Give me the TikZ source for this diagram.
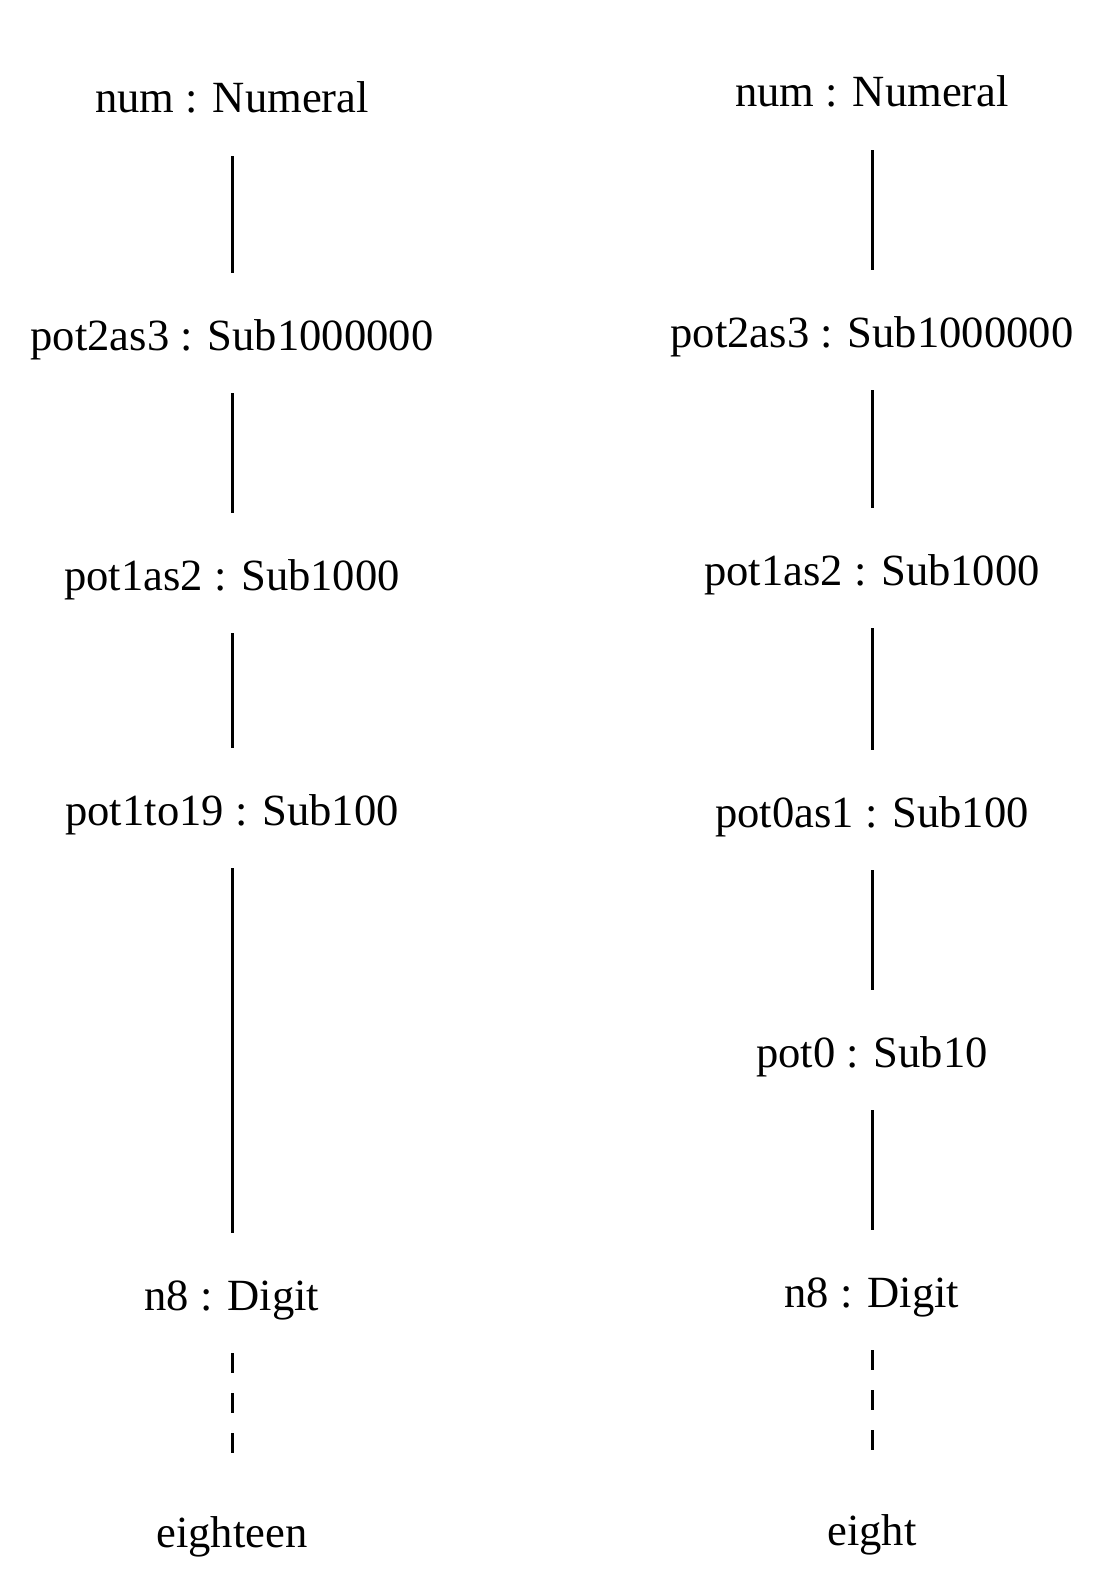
\documentclass[tikz,border=0pt]{standalone}
\usepackage{fontspec}
\setmainfont{Liberation Serif}
\begin{document}
\begin{tikzpicture}[x=1pt,y=-1pt,
  lbl/.style={anchor=base,inner sep=0pt,text height=77pt,text depth=43pt,font=\fontsize{44.6}{50}\selectfont},
  link/.style={line width=3pt},
  dlink/.style={line width=3pt,dash pattern=on 20pt off 20pt}]
\useasboundingbox[fill=white] (0,0) rectangle (1114,1578);
% left column
\node[lbl] (la) at (232,113) {num : Numeral};
\node[lbl] (lb) at (232,350) {pot2as3 : Sub1000000};
\node[lbl] (lc) at (232,590) {pot1as2 : Sub1000};
\node[lbl] (ld) at (232,825) {pot1to19 : Sub100};
\node[lbl] (le) at (232,1310) {n8 : Digit};
\node[lbl] (lf) at (232,1547) {eighteen};
\draw[link] (la.south) -- (lb.north);
\draw[link] (lb.south) -- (lc.north);
\draw[link] (lc.south) -- (ld.north);
\draw[link] (ld.south) -- (le.north);
\draw[dlink] (le.south) -- (lf.north);
% right column
\node[lbl] (ra) at (872,107) {num : Numeral};
\node[lbl] (rb) at (872,347) {pot2as3 : Sub1000000};
\node[lbl] (rc) at (872,585) {pot1as2 : Sub1000};
\node[lbl] (rd) at (872,827) {pot0as1 : Sub100};
\node[lbl] (re) at (872,1067) {pot0 : Sub10};
\node[lbl] (rf) at (872,1307) {n8 : Digit};
\node[lbl] (rg) at (872,1545) {eight};
\draw[link] (ra.south) -- (rb.north);
\draw[link] (rb.south) -- (rc.north);
\draw[link] (rc.south) -- (rd.north);
\draw[link] (rd.south) -- (re.north);
\draw[link] (re.south) -- (rf.north);
\draw[dlink] (rf.south) -- (rg.north);
\end{tikzpicture}
\end{document}
